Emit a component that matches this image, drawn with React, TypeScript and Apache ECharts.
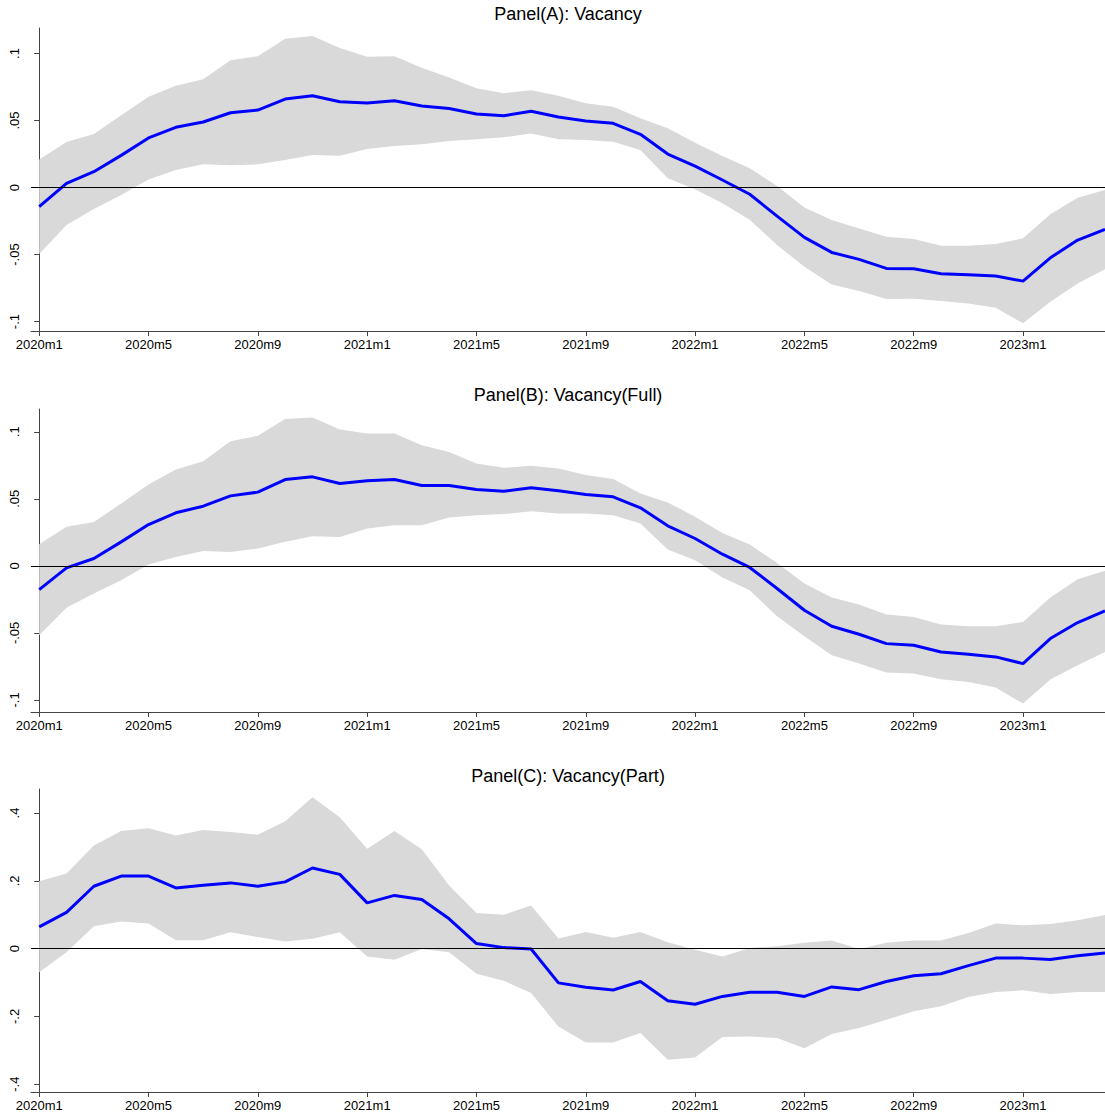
import React, { useEffect, useRef } from "react";
import * as echarts from "echarts";

const months = [
  "2020m1","2020m2","2020m3","2020m4","2020m5","2020m6","2020m7","2020m8","2020m9","2020m10","2020m11","2020m12",
  "2021m1","2021m2","2021m3","2021m4","2021m5","2021m6","2021m7","2021m8","2021m9","2021m10","2021m11","2021m12",
  "2022m1","2022m2","2022m3","2022m4","2022m5","2022m6","2022m7","2022m8","2022m9","2022m10","2022m11","2022m12",
  "2023m1","2023m2","2023m3","2023m4",
];
const xTickIdx = [0, 4, 8, 12, 16, 20, 24, 28, 32, 36];

const ticksAB = [-0.1, -0.05, 0, 0.05, 0.1];
const labelsAB = ["-.1", "-.05", "0", ".05", ".1"];
const ticksC = [-0.4, -0.2, 0, 0.2, 0.4];
const labelsC = ["-.4", "-.2", "0", ".2", ".4"];

const estA = [-0.0143, 0.0031, 0.0118, 0.024, 0.037, 0.0449, 0.0489, 0.0558, 0.0578, 0.066, 0.0685, 0.064, 0.063, 0.0648, 0.0608, 0.059, 0.0549, 0.0536, 0.0569, 0.0526, 0.0496, 0.0479, 0.0397, 0.025, 0.016, 0.0056, -0.005, -0.0213, -0.0372, -0.0484, -0.0536, -0.0603, -0.0606, -0.0643, -0.065, -0.066, -0.0698, -0.0524, -0.0392, -0.0312];
const hiA = [0.021, 0.034, 0.04, 0.054, 0.0678, 0.076, 0.0807, 0.095, 0.098, 0.111, 0.113, 0.104, 0.0976, 0.098, 0.0894, 0.082, 0.074, 0.0703, 0.0725, 0.0685, 0.0628, 0.0603, 0.0516, 0.0442, 0.0334, 0.0235, 0.0143, 0.0011, -0.0148, -0.0243, -0.0305, -0.0367, -0.0384, -0.0434, -0.0434, -0.0422, -0.0379, -0.02, -0.0076, -0.0019];
const loA = [-0.0496, -0.028, -0.016, -0.0056, 0.006, 0.013, 0.0173, 0.0166, 0.0173, 0.0205, 0.0243, 0.0237, 0.0287, 0.031, 0.0322, 0.0347, 0.036, 0.0375, 0.0404, 0.036, 0.0354, 0.0342, 0.028, 0.0069, -0.0013, -0.0118, -0.024, -0.0429, -0.0591, -0.0723, -0.0772, -0.0832, -0.083, -0.0847, -0.0864, -0.0897, -0.1013, -0.0852, -0.0715, -0.061];

const estB = [-0.0177, -0.0015, 0.0055, 0.0179, 0.0308, 0.0396, 0.0445, 0.0522, 0.055, 0.0644, 0.0664, 0.0614, 0.0634, 0.0644, 0.06, 0.06, 0.057, 0.0557, 0.0582, 0.056, 0.0532, 0.0515, 0.0433, 0.0299, 0.0204, 0.0087, -0.0012, -0.0169, -0.0331, -0.045, -0.051, -0.058, -0.0592, -0.0642, -0.0659, -0.0679, -0.0729, -0.0542, -0.0423, -0.0336];
const hiB = [0.0162, 0.0291, 0.0328, 0.0465, 0.0607, 0.0719, 0.0781, 0.093, 0.097, 0.1095, 0.1107, 0.1017, 0.0988, 0.0988, 0.09, 0.085, 0.0764, 0.0731, 0.0746, 0.0726, 0.0677, 0.0647, 0.054, 0.0473, 0.0366, 0.0246, 0.0159, 0.0022, -0.0132, -0.0236, -0.0289, -0.0363, -0.0381, -0.0438, -0.045, -0.045, -0.0418, -0.0236, -0.01, -0.0037];
const loB = [-0.0517, -0.0313, -0.0206, -0.0107, 0.001, 0.0067, 0.011, 0.0104, 0.0129, 0.0179, 0.0221, 0.0216, 0.0279, 0.0303, 0.0303, 0.0361, 0.0378, 0.0386, 0.0408, 0.039, 0.039, 0.0378, 0.0316, 0.0122, 0.0042, -0.0087, -0.0182, -0.0376, -0.0525, -0.0667, -0.0729, -0.0796, -0.0803, -0.0846, -0.0866, -0.0908, -0.1027, -0.0848, -0.0741, -0.0642];

const estC = [0.064, 0.107, 0.184, 0.214, 0.214, 0.179, 0.187, 0.194, 0.184, 0.197, 0.238, 0.219, 0.135, 0.157, 0.145, 0.088, 0.015, 0.003, -0.001, -0.101, -0.114, -0.122, -0.097, -0.154, -0.164, -0.141, -0.129, -0.129, -0.141, -0.113, -0.121, -0.097, -0.08, -0.074, -0.05, -0.028, -0.028, -0.032, -0.021, -0.013];
const hiC = [0.199, 0.222, 0.304, 0.347, 0.355, 0.334, 0.35, 0.344, 0.336, 0.376, 0.447, 0.388, 0.295, 0.347, 0.293, 0.186, 0.105, 0.1, 0.127, 0.03, 0.049, 0.032, 0.049, 0.019, -0.003, -0.023, 0.002, 0.007, 0.017, 0.024, -0.001, 0.017, 0.024, 0.024, 0.046, 0.074, 0.069, 0.073, 0.084, 0.099];
const loC = [-0.07, -0.011, 0.066, 0.08, 0.074, 0.025, 0.025, 0.048, 0.034, 0.021, 0.029, 0.048, -0.023, -0.033, -0.001, -0.011, -0.074, -0.095, -0.131, -0.23, -0.277, -0.277, -0.249, -0.328, -0.321, -0.261, -0.259, -0.264, -0.294, -0.252, -0.234, -0.21, -0.185, -0.17, -0.143, -0.128, -0.123, -0.134, -0.128, -0.128];

const FONT = "'Liberation Sans', Arial, Helvetica, sans-serif";

const panels = [
  { title: "Panel(A): Vacancy", est: estA, hi: hiA, lo: loA, ticks: ticksAB, labels: labelsAB, ymin: -0.107, ymax: 0.119, top: 28, titleTop: 5 },
  { title: "Panel(B): Vacancy(Full)", est: estB, hi: hiB, lo: loB, ticks: ticksAB, labels: labelsAB, ymin: -0.109, ymax: 0.117, top: 409, titleTop: 386 },
  { title: "Panel(C): Vacancy(Part)", est: estC, hi: hiC, lo: loC, ticks: ticksC, labels: labelsC, ymin: -0.423, ymax: 0.471, top: 789, titleTop: 767 },
];

export default function App() {
  const ref = useRef<HTMLDivElement>(null);
  useEffect(() => {
    if (!ref.current) return;
    const chart = echarts.init(ref.current, null, { renderer: "svg" });
    const grids: any[] = [];
    const xAxes: any[] = [];
    const yAxes: any[] = [];
    const titles: any[] = [];
    const series: any[] = [];
    panels.forEach((p, k) => {
      grids.push({ left: 31, right: 0, top: p.top, height: 303, containLabel: false });
      titles.push({
        text: p.title, left: 568, top: p.titleTop, textAlign: "center", padding: 0,
        textStyle: { fontSize: 18, fontWeight: "normal", color: "#000", fontFamily: FONT },
      });
      xAxes.push({
        type: "value", gridIndex: k, min: -0.3, max: 39,
        splitLine: { show: false },
        axisLine: { show: true, onZero: false, lineStyle: { color: "#444", width: 1 } },
        axisTick: { show: true, customValues: xTickIdx, length: 5, lineStyle: { color: "#444" } },
        axisLabel: {
          customValues: xTickIdx, margin: 7, fontSize: 13, color: "#000", fontFamily: FONT,
          formatter: (v: number) => months[Math.round(v)] ?? "",
        },
      });
      yAxes.push({
        type: "value", gridIndex: k, min: p.ymin, max: p.ymax,
        splitLine: { show: false },
        axisLine: { show: true, lineStyle: { color: "#444", width: 1 } },
        axisTick: { show: true, customValues: p.ticks, length: 5, lineStyle: { color: "#444" } },
        axisLabel: {
          customValues: p.ticks, rotate: 90, margin: 10, fontSize: 13, color: "#000", fontFamily: FONT,
          formatter: (v: number) => {
            const i = p.ticks.findIndex((t) => Math.abs(t - v) < 1e-9);
            return i >= 0 ? p.labels[i] : "";
          },
        },
      });
      const bandData = p.lo.map((v, i) => [i, v, p.hi[i]]);
      series.push({
        type: "custom", xAxisIndex: k, yAxisIndex: k, silent: true, z: 1, clip: true,
        data: bandData,
        encode: { x: 0, y: [1, 2] },
        renderItem: (params: any, api: any) => {
          if (params.dataIndex !== 0) return null;
          const upper = bandData.map((d) => api.coord([d[0], d[2]]));
          const lower = bandData.map((d) => api.coord([d[0], d[1]])).reverse();
          return {
            type: "polygon",
            shape: { points: upper.concat(lower) },
            style: { fill: "#d9d9d9", stroke: "none" },
          };
        },
      });
      series.push({
        type: "line", xAxisIndex: k, yAxisIndex: k,
        data: p.est.map((v, i) => [i, v]), symbol: "none", silent: true,
        lineStyle: { color: "#0000ff", width: 3 }, z: 3,
        markLine: {
          silent: true, symbol: "none", label: { show: false },
          lineStyle: { color: "#000", width: 1, type: "solid" },
          data: [{ yAxis: 0 }],
        },
      });
    });
    chart.setOption({
      animation: false,
      backgroundColor: "#fff",
      title: titles,
      grid: grids,
      xAxis: xAxes,
      yAxis: yAxes,
      series,
    });
    return () => chart.dispose();
  }, []);
  return (
    <div
      ref={ref}
      style={{ position: "absolute", left: 0, top: 0, width: 1105, height: 1116 }}
    />
  );
}
